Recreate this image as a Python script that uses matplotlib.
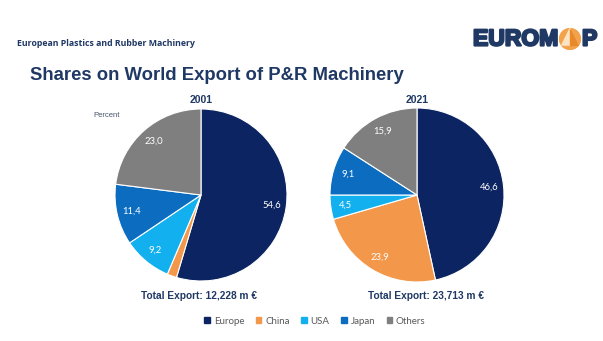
import matplotlib
matplotlib.use("Agg")
import matplotlib.pyplot as plt
import matplotlib.patheffects as pe
import numpy as np

categories = ["Europe", "China", "USA", "Japan", "Others"]
shares_2001 = [54.6, 1.8, 9.2, 11.4, 23.0]
shares_2021 = [46.6, 23.9, 4.5, 9.1, 15.9]
labels_2001 = ["54,6", "", "9,2", "11,4", "23,0"]
labels_2021 = ["46,6", "23,9", "4,5", "9,1", "15,9"]
years = ["2001", "2021"]
totals = ["Total Export: 12,228 m €", "Total Export: 23,713 m €"]
colors = ["#0c2461", "#f3984a", "#12b0ef", "#0b6cc0", "#7f7f7f"]
navy = "#1f3864"

W, H = 603, 341
fig = plt.figure(figsize=(W / 100, H / 100), dpi=100)
fig.patch.set_facecolor("white")

def px_axes(cx, cy, r):
    return fig.add_axes([(cx - r) / W, 1 - (cy + r) / H, 2 * r / W, 2 * r / H])

# header
fig.text(17 / W, 1 - 44 / H, "European Plastics and Rubber Machinery", fontsize=6.3,
         fontweight="bold", color=navy, family="Open Sans", va="center", ha="left")
fig.text(30 / W, 1 - 75 / H, "Shares on World Export of P&R Machinery", fontsize=13.3,
         fontweight="bold", color=navy, family="Liberation Sans", va="center", ha="left")

# logo
logo_y = 1 - 39 / H
thick = [pe.withStroke(linewidth=1.6, foreground=navy)]
t = fig.text(473 / W, logo_y, "EUROM", fontsize=16.5, fontweight="bold", color=navy,
             family="Liberation Sans", va="center", ha="left", path_effects=thick)
fig.canvas.draw()
bb = t.get_window_extent()
x_a = (bb.x1 + 1) / W
ax_logo = fig.add_axes([x_a, logo_y - 11 / H, 22 / W, 22 / H])
ax_logo.set_xlim(-1, 1); ax_logo.set_ylim(-1, 1); ax_logo.axis("off")
ax_logo.add_patch(plt.Circle((0, 0), 0.95, color="#f3a24a"))
ax_logo.add_patch(plt.Polygon([[0, 0.95], [-0.75, -0.55], [0.75, -0.55]], color="#fde3c4"))
ax_logo.add_patch(plt.Polygon([[0, 0.95], [0.0, -0.55], [0.75, -0.55]], color="#e88a2a"))
fig.text(x_a + 23 / W, logo_y, "P", fontsize=16.5, fontweight="bold", color=navy,
         family="Liberation Sans", va="center", ha="left", path_effects=thick)

centers = [(201, 195, 86), (417, 195, 87)]
total_x = [199, 426]
for (cx, cy, r), tx, vals, labs, yr, tot in zip(centers, total_x, [shares_2001, shares_2021],
                                                [labels_2001, labels_2021], years, totals):
    ax = px_axes(cx, cy, r)
    wedges, _ = ax.pie(vals, colors=colors, startangle=90, counterclock=False,
                       radius=1.0, wedgeprops=dict(edgecolor="white", linewidth=0.8))
    ax.set_xlim(-1, 1); ax.set_ylim(-1, 1)
    ax.set_aspect("auto")
    for w, lab in zip(wedges, labs):
        if not lab:
            continue
        ang = np.deg2rad((w.theta1 + w.theta2) / 2)
        ax.text(0.83 * np.cos(ang), 0.83 * np.sin(ang), lab, color="white", fontsize=6.8,
                family="Lato", ha="center", va="center")
    fig.text(cx / W, 1 - 100 / H, yr, fontsize=7.5, fontweight="bold", color=navy,
             family="Liberation Sans", ha="center", va="center")
    fig.text(tx / W, 1 - 296 / H, tot, fontsize=7.3, fontweight="bold", color=navy,
             family="Liberation Sans", ha="center", va="center")

fig.text(93 / W, 1 - 116 / H, "Percent", fontsize=5.5, color="#44546a",
         family="Liberation Sans", ha="left", va="center")

handles = [plt.Rectangle((0, 0), 1, 1, color=c) for c in colors]
fig.legend(handles, categories, loc="center", bbox_to_anchor=(315 / W, 1 - 321 / H),
           ncol=5, frameon=False, prop=dict(family="Lato", size=7),
           handlelength=0.55, handleheight=0.55, handletextpad=0.4, columnspacing=1.2,
           labelcolor="#595959")

fig.savefig("out.png", dpi=100, facecolor="white")
